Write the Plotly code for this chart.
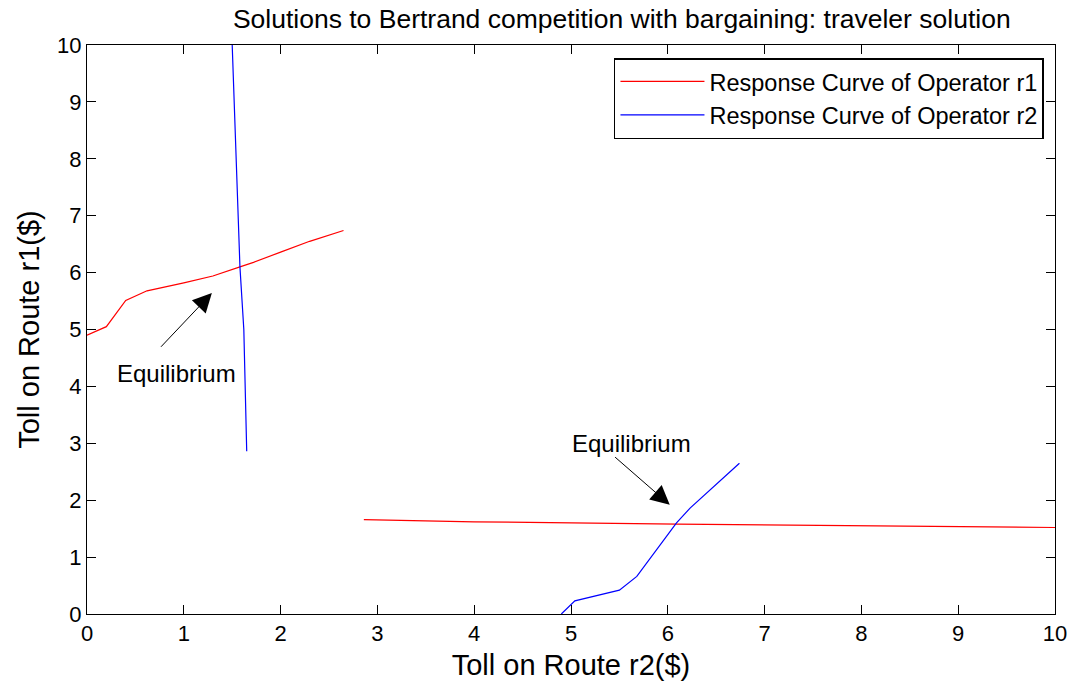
import plotly.graph_objects as go

# Response curve of operator r1 (upper-left branch)
r1a_x = [0.0, 0.2, 0.4, 0.62, 1.0, 1.3, 1.58, 1.72, 2.0, 2.3, 2.65]
r1a_y = [4.90, 5.05, 5.51, 5.68, 5.82, 5.94, 6.10, 6.18, 6.36, 6.55, 6.74]
# Response curve of operator r2 (upper-left branch)
r2a_x = [1.50, 1.58, 1.62, 1.65]
r2a_y = [10.0, 6.10, 5.00, 2.86]
# Response curve of operator r1 (lower-right branch)
r1b_x = [2.86, 4.0, 6.1, 8.0, 10.0]
r1b_y = [1.66, 1.62, 1.58, 1.55, 1.52]
# Response curve of operator r2 (lower-right branch)
r2b_x = [4.90, 5.04, 5.50, 5.68, 6.09, 6.23, 6.74]
r2b_y = [0.00, 0.23, 0.42, 0.66, 1.60, 1.86, 2.65]

ticks = list(range(0, 11))
font = "Liberation Sans, Arial, sans-serif"

fig = go.Figure()
fig.add_trace(go.Scatter(x=r1a_x, y=r1a_y, mode="lines", line=dict(color="#ff0000", width=1.2),
                         name="Response Curve of Operator r1", legendgroup="r1"))
fig.add_trace(go.Scatter(x=r2a_x, y=r2a_y, mode="lines", line=dict(color="#0000ff", width=1.2),
                         name="Response Curve of Operator r2", legendgroup="r2"))
fig.add_trace(go.Scatter(x=r1b_x, y=r1b_y, mode="lines", line=dict(color="#ff0000", width=1.2),
                         name="Response Curve of Operator r1", legendgroup="r1", showlegend=False))
fig.add_trace(go.Scatter(x=r2b_x, y=r2b_y, mode="lines", line=dict(color="#0000ff", width=1.2),
                         name="Response Curve of Operator r2", legendgroup="r2", showlegend=False))

# Equilibrium annotations (arrow head, arrow tail, text position)
eq_labels = ["Equilibrium", "Equilibrium"]
eq_head_x = [1.29, 6.02]
eq_head_y = [5.64, 1.92]
eq_tail_x = [0.75, 5.44]
eq_tail_y = [4.67, 2.78]
eq_text_x = [0.92, 5.62]
eq_text_y = [4.23, 3.0]

for lab, hx, hy, tx, ty, lx, ly in zip(eq_labels, eq_head_x, eq_head_y, eq_tail_x, eq_tail_y, eq_text_x, eq_text_y):
    fig.add_annotation(x=hx, y=hy, ax=tx, ay=ty, xref="x", yref="y", axref="x", ayref="y",
                       text="", showarrow=True, arrowhead=2, arrowsize=3.8, arrowwidth=1,
                       arrowcolor="black")
    fig.add_annotation(x=lx, y=ly, xref="x", yref="y", text=lab, showarrow=False,
                       font=dict(size=24, color="black", family=font))

axis_common = dict(range=[0, 10], tickvals=ticks, ticktext=[str(t) for t in ticks],
                   ticks="inside", ticklen=9, tickwidth=1, tickcolor="black",
                   showline=True, linecolor="black", linewidth=1, mirror="allticks",
                   showgrid=False, zeroline=False, automargin=False,
                   tickfont=dict(size=22, color="black", family=font))

fig.update_layout(
    width=1072, height=683,
    margin=dict(l=87, r=17, t=45, b=69, autoexpand=False),
    paper_bgcolor="white", plot_bgcolor="white",
    title=dict(text="Solutions to Bertrand competition with bargaining: traveler solution",
               x=0.58, xanchor="center", y=0.972, yanchor="middle",
               font=dict(size=26.5, color="black", family=font)),
    xaxis=dict(**axis_common, title=dict(text="Toll on Route r2($)", standoff=9,
                                         font=dict(size=29, color="black", family=font))),
    yaxis=dict(**axis_common, title=dict(text="Toll on Route r1($)", standoff=8,
                                         font=dict(size=29, color="black", family=font))),
    legend=dict(x=0.9886, y=0.977, xanchor="right", yanchor="top",
                bgcolor="white", bordercolor="black", borderwidth=1.5,
                font=dict(size=23.5, color="black", family=font),
                itemwidth=84, tracegroupgap=0),
    showlegend=True,
)

fig.write_html("out.html")
